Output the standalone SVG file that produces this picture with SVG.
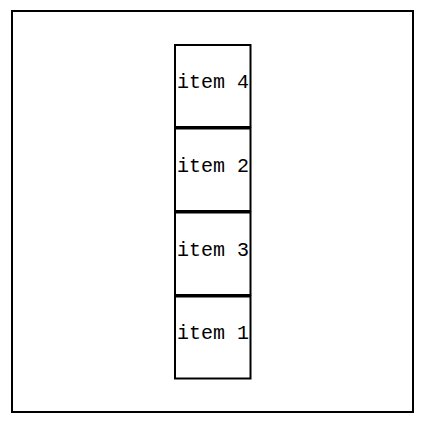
<svg xmlns="http://www.w3.org/2000/svg" width="441" height="434" viewBox="0 0 441 434">
<style>
.frame{fill:#fff;stroke:#000;stroke-width:2}
.box{fill:#fff;stroke:#000;stroke-width:2}
.lbl{font-family:"Liberation Mono","DejaVu Sans Mono",monospace;font-size:20px;fill:#000;text-anchor:middle}
</style>
<rect x="0" y="0" width="441" height="434" fill="#fff"/>
<rect class="frame" x="12" y="11" width="401" height="401"/>
<g id="connectors"></g>
<g id="item4"><rect class="box" x="175" y="45" width="75.5" height="82"/><text class="lbl" x="213" y="88">item 4</text></g>
<g id="item2"><rect class="box" x="175" y="128.5" width="75.5" height="82.5"/><text class="lbl" x="213" y="172">item 2</text></g>
<g id="item3"><rect class="box" x="175" y="212.5" width="75.5" height="82.5"/><text class="lbl" x="213" y="256">item 3</text></g>
<g id="item1"><rect class="box" x="175" y="296.5" width="75.5" height="82"/><text class="lbl" x="213" y="339">item 1</text></g>
</svg>
